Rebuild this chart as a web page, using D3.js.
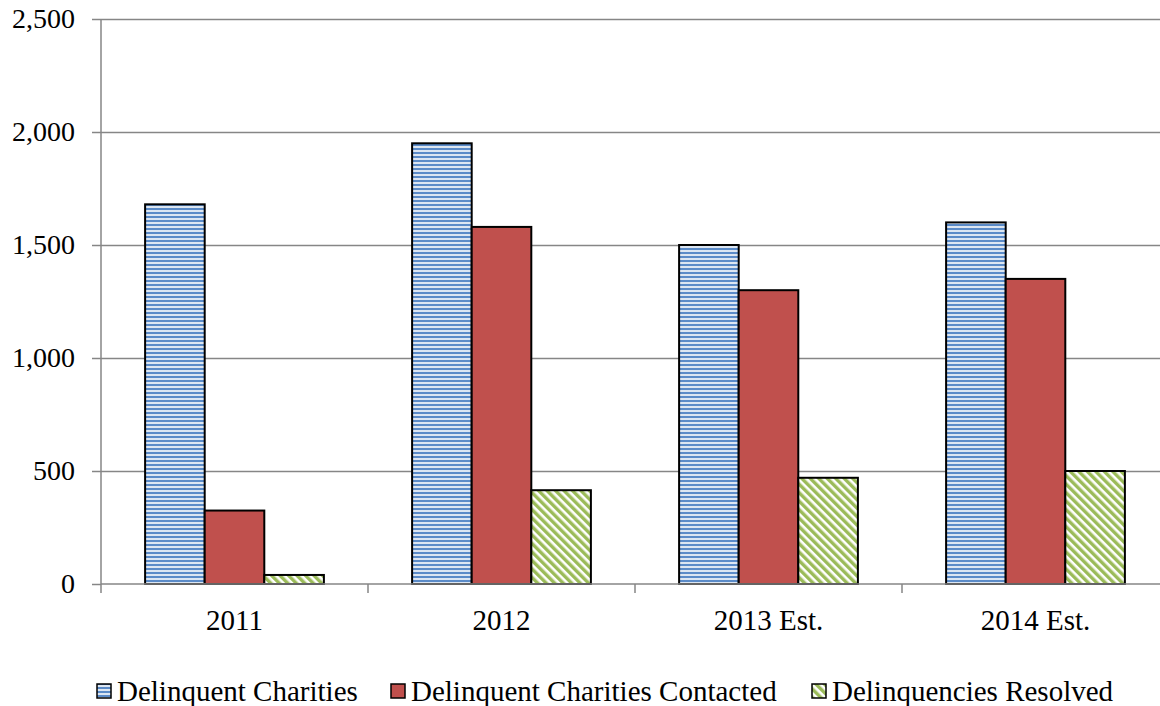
<!DOCTYPE html>
<html>
<head>
<meta charset="utf-8">
<script src="https://cdn.jsdelivr.net/npm/d3@7"></script>
<style>
  body { margin: 0; background: #fff; }
  svg { display: block; font-family: "Liberation Serif", "Times New Roman", serif; }
</style>
</head>
<body>
<svg id="chart" width="1160" height="706"></svg>
<script>
const years = ["2011", "2012", "2013 Est.", "2014 Est."];
const seriesNames = ["Delinquent Charities", "Delinquent Charities Contacted", "Delinquencies Resolved"];
const delinquent = [1680, 1950, 1500, 1600];
const contacted = [325, 1580, 1300, 1350];
const resolved = [40, 415, 470, 500];
const yTicks = [0, 500, 1000, 1500, 2000, 2500];

const width = 1160, height = 706;
const margin = {top: 19, bottom: 122, left: 101};
const plotRight = 1169; // last category runs a little past the window edge

const svg = d3.select("#chart");
const defs = svg.append("defs");

// horizontal blue stripes
const pBlue = defs.append("pattern").attr("id", "pBlue")
    .attr("patternUnits", "userSpaceOnUse").attr("width", 8).attr("height", 4);
pBlue.append("rect").attr("width", 8).attr("height", 4).attr("fill", "#dce6f2");
pBlue.append("rect").attr("y", 0).attr("width", 8).attr("height", 2).attr("fill", "#5b8bc8");

// diagonal green stripes (top-left to bottom-right)
const pGreen = defs.append("pattern").attr("id", "pGreen")
    .attr("patternUnits", "userSpaceOnUse").attr("width", 6).attr("height", 6)
    .attr("patternTransform", "rotate(-45)");
pGreen.append("rect").attr("width", 6).attr("height", 6).attr("fill", "#ffffff");
pGreen.append("rect").attr("width", 3.4).attr("height", 6).attr("fill", "#9bbb59");

const fills = ["url(#pBlue)", "#c0504d", "url(#pGreen)"];
const data = years.map((y, i) => ({year: y, values: [delinquent[i], contacted[i], resolved[i]]}));

const x = d3.scaleBand().domain(years).range([margin.left, plotRight]);
const xInner = d3.scaleBand().domain(d3.range(3)).range([0, x.bandwidth()]).paddingOuter(0.74);
const y = d3.scaleLinear().domain([0, 2500]).range([height - margin.bottom, margin.top]);

// gridlines
svg.append("g").selectAll("line").data(yTicks.slice(1)).join("line")
    .attr("x1", margin.left).attr("x2", width)
    .attr("y1", d => Math.round(y(d)) + 0.5).attr("y2", d => Math.round(y(d)) + 0.5)
    .attr("stroke", "#868686").attr("stroke-width", 1.5);

// y axis
const yAxis = svg.append("g").attr("transform", `translate(${margin.left},0)`)
    .call(d3.axisLeft(y).tickValues(yTicks).tickSize(9).tickPadding(17).tickFormat(d3.format(",")));
yAxis.attr("font-family", null).attr("font-size", null);
yAxis.select(".domain").attr("stroke", "#868686").attr("stroke-width", 1.5).attr("d", `M0,${y(2500)}V${y(0)}`);
yAxis.selectAll(".tick line").attr("stroke", "#868686").attr("stroke-width", 1.5);
yAxis.selectAll("text").attr("font-size", 28).attr("fill", "#000");

// bars
const groups = svg.append("g").selectAll("g").data(data).join("g")
    .attr("transform", d => `translate(${x(d.year)},0)`);
groups.selectAll("rect").data(d => d.values).join("rect")
    .attr("x", (d, i) => xInner(i))
    .attr("width", xInner.bandwidth())
    .attr("y", d => y(d))
    .attr("height", d => y(0) - y(d))
    .attr("fill", (d, i) => fills[i])
    .attr("stroke", "#000").attr("stroke-width", 2);

// x axis
const xAxisG = svg.append("g").attr("transform", `translate(0,${y(0)})`);
xAxisG.append("line").attr("x1", margin.left).attr("x2", width)
    .attr("stroke", "#868686").attr("stroke-width", 1.5);
xAxisG.selectAll(".tk").data(years).join("line").attr("class", "tk")
    .attr("x1", d => x(d)).attr("x2", d => x(d)).attr("y1", 0).attr("y2", 9)
    .attr("stroke", "#868686").attr("stroke-width", 1.5);
xAxisG.selectAll("text").data(years).join("text")
    .attr("x", d => x(d) + x.bandwidth() / 2).attr("y", 46)
    .attr("text-anchor", "middle").attr("font-size", 29).text(d => d);

// legend
const legendX = [97, 391, 812];
const legend = svg.append("g").attr("transform", "translate(0,691)");
const li = legend.selectAll("g").data(seriesNames).join("g")
    .attr("transform", (d, i) => `translate(${legendX[i]},0)`);
li.append("rect").attr("x", 0).attr("y", -7).attr("width", 14).attr("height", 14)
    .attr("fill", (d, i) => fills[i]).attr("stroke", "#000").attr("stroke-width", 1.5);
li.append("text").attr("x", 20).attr("y", 10).attr("font-size", 29).text(d => d);
</script>
</body>
</html>
